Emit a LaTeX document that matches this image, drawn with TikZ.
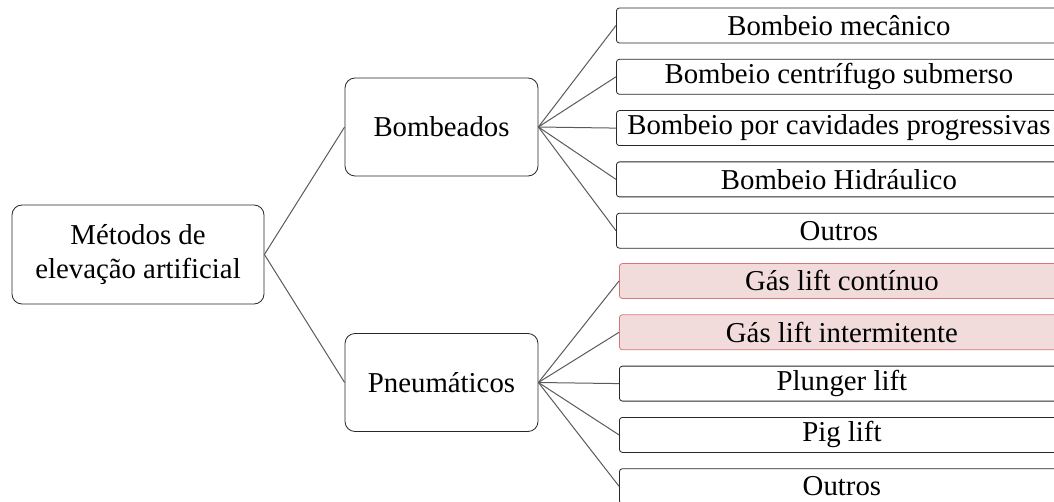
\documentclass[tikz,border=0pt]{standalone}
\usepackage{fontspec}
\setmainfont{Liberation Serif}
\usetikzlibrary{positioning}
\definecolor{edge}{RGB}{90,90,90}
\definecolor{boxline}{RGB}{40,40,40}
\definecolor{hlfill}{RGB}{242,220,219}
\definecolor{hlline}{RGB}{214,120,120}

\begin{document}
\begin{tikzpicture}[x=0.5pt,y=-0.5pt,
    node distance=7.75pt,
    font=\fontsize{14.4pt}{17pt}\selectfont,
    mid/.style={rectangle,rounded corners=5pt,draw=boxline,fill=white,
                minimum width=96.5pt,minimum height=49pt,align=center},
    leaf/.style={rectangle,rounded corners=1.5pt,draw=boxline,fill=white,
                 minimum width=222.5pt,minimum height=17.5pt,inner sep=1pt},
    hl/.style={leaf,draw=hlline,fill=hlfill},
    ln/.style={edge,line width=0.5pt}]
    \clip (0,0) rectangle (1054,502);
    \node[mid,minimum width=126pt,minimum height=49.5pt](root) at (138,254.5){Métodos de\\elevação artificial};
    \node[mid](bomb) at (441.5,127){Bombeados};
    \node[mid](pneu) at (441.5,382.5){Pneumáticos};
    % bombeados
    \node[leaf,anchor=west](b1) at (616,25.5){Bombeio mecânico};
    \node[leaf,below=of b1](b2){Bombeio centrífugo submerso};
    \node[leaf,below=of b2](b3){Bombeio por cavidades progressivas};
    \node[leaf,below=of b3](b4){Bombeio Hidráulico};
    \node[leaf,below=of b4](b5){Outros};
    % pneumaticos
    \node[hl,anchor=west](p1) at (619,281){Gás lift contínuo};
    \node[hl,below=of p1](p2){Gás lift intermitente};
    \node[leaf,below=of p2](p3){Plunger lift};
    \node[leaf,below=of p3](p4){Pig lift};
    \node[leaf,below=of p4](p5){Outros};
    \draw[ln](root.east)--(bomb.west);\draw[ln](root.east)--(pneu.west);
    \draw[ln](bomb.east)--(b1.west);\draw[ln](bomb.east)--(b2.west);\draw[ln](bomb.east)--(b3.west);\draw[ln](bomb.east)--(b4.west);\draw[ln](bomb.east)--(b5.west);
    \draw[ln](pneu.east)--(p1.west);\draw[ln](pneu.east)--(p2.west);\draw[ln](pneu.east)--(p3.west);\draw[ln](pneu.east)--(p4.west);\draw[ln](pneu.east)--(p5.west);
  \end{tikzpicture}
\end{document}
